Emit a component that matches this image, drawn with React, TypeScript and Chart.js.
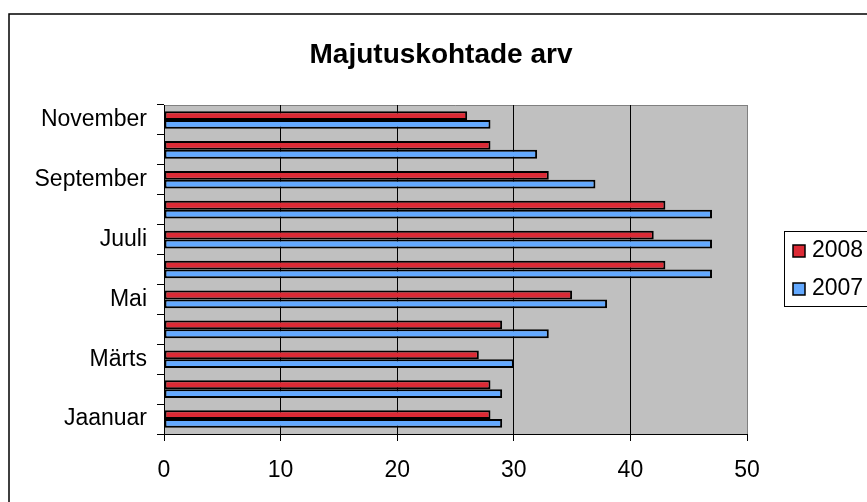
import React, { useEffect, useRef } from "react";
import { Chart, registerables } from "chart.js";

Chart.register(...registerables);

const months = [
  "Jaanuar",
  "Veebruar",
  "Märts",
  "Aprill",
  "Mai",
  "Juuni",
  "Juuli",
  "August",
  "September",
  "Oktoober",
  "November",
];
const values2008 = [28, 28, 27, 29, 35, 43, 42, 43, 33, 28, 26];
const values2007 = [29, 29, 30, 33, 38, 47, 47, 47, 37, 32, 28];
const xTicks = [0, 10, 20, 30, 40, 50];
const titleText = "Majutuskohtade arv";
const seriesLabels = ["2008", "2007"];
const seriesColors = ["#DC2A35", "#63A9FF"];

const FONT = "'Liberation Sans', Arial, Helvetica, sans-serif";

const framePlugin = {
  id: "framePlugin",
  beforeDraw(chart: any) {
    const { ctx, chartArea } = chart;
    ctx.save();
    ctx.fillStyle = "#C0C0C0";
    ctx.fillRect(chartArea.left, chartArea.top, chartArea.right - chartArea.left, chartArea.bottom - chartArea.top);
    ctx.strokeStyle = "#808080";
    ctx.lineWidth = 1;
    ctx.beginPath();
    ctx.moveTo(chartArea.left, chartArea.top + 0.5);
    ctx.lineTo(chartArea.right + 0.5, chartArea.top + 0.5);
    ctx.lineTo(chartArea.right + 0.5, chartArea.bottom);
    ctx.stroke();
    ctx.restore();
  },
  afterDraw(chart: any) {
    const { ctx } = chart;
    ctx.save();
    ctx.strokeStyle = "#000";
    ctx.lineWidth = 1.5;
    ctx.strokeRect(9, 14, 1000, 1000);
    ctx.fillStyle = "#000";
    ctx.font = `bold 28px ${FONT}`;
    ctx.textAlign = "center";
    ctx.textBaseline = "alphabetic";
    ctx.fillText(titleText, 441, 63);
    ctx.lineWidth = 1;
    ctx.strokeStyle = "#000";
    ctx.strokeRect(784.5, 231.5, 200, 75);
    const rows = [251, 289];
    chart.data.datasets.forEach((ds: any, i: number) => {
      const cy = rows[i];
      ctx.fillStyle = ds.backgroundColor;
      ctx.fillRect(793, cy - 6, 12, 12);
      ctx.lineWidth = 1.5;
      ctx.strokeStyle = "#000";
      ctx.strokeRect(793, cy - 6, 12, 12);
      ctx.fillStyle = "#000";
      ctx.font = `23px ${FONT}`;
      ctx.textAlign = "left";
      ctx.textBaseline = "middle";
      ctx.fillText(ds.label, 812, cy);
    });
    ctx.restore();
  },
};

export default function App() {
  const canvasRef = useRef<HTMLCanvasElement | null>(null);

  useEffect(() => {
    document.body.style.margin = "0";
    const canvas = canvasRef.current;
    if (!canvas) return;
    const chart = new Chart(canvas, {
      type: "bar",
      data: {
        labels: months,
        datasets: [
          {
            label: seriesLabels[0],
            data: values2008,
            backgroundColor: seriesColors[0],
            borderColor: "#000",
            borderWidth: 2,
            borderSkipped: false,
          },
          {
            label: seriesLabels[1],
            data: values2007,
            backgroundColor: seriesColors[1],
            borderColor: "#000",
            borderWidth: 2,
            borderSkipped: false,
          },
        ],
      },
      options: {
        indexAxis: "y",
        responsive: false,
        animation: false,
        devicePixelRatio: 1,
        categoryPercentage: 0.59,
        barPercentage: 1,
        layout: { padding: { top: 105, right: 120, left: 0, bottom: 0 } },
        plugins: {
          legend: { display: false },
          title: { display: false },
          tooltip: { enabled: false },
        },
        scales: {
          x: {
            type: "linear",
            min: 0,
            max: 50,
            afterFit(scale: any) {
              scale.height = 68;
            },
            afterBuildTicks(scale: any) {
              scale.ticks = xTicks.map((v) => ({ value: v }));
            },
            grid: {
              color: (c: any) => (c.tick && c.tick.value === 50 ? "#808080" : "#000"),
              tickColor: "#000",
              lineWidth: 1,
              tickLength: 7,
              drawTicks: true,
            },
            border: { display: true, color: "#000", width: 1 },
            ticks: {
              color: "#000",
              padding: 16,
              font: { family: FONT, size: 23 },
              maxRotation: 0,
            },
          },
          y: {
            type: "category",
            reverse: true,
            offset: true,
            afterFit(scale: any) {
              scale.width = 164;
            },
            grid: {
              offset: true,
              drawOnChartArea: false,
              drawTicks: true,
              tickLength: 7,
              tickColor: "#000",
              color: "#000",
            },
            border: { display: true, color: "#000", width: 1 },
            ticks: {
              autoSkip: false,
              color: "#000",
              padding: 10,
              font: { family: FONT, size: 23 },
              callback: (_v: any, i: number) => (i % 2 === 0 ? months[i] : ""),
            },
          },
        },
      },
      plugins: [framePlugin],
    } as any);
    return () => chart.destroy();
  }, []);

  return (
    <canvas
      ref={canvasRef}
      width={867}
      height={502}
      style={{ display: "block", width: 867, height: 502 }}
    />
  );
}
